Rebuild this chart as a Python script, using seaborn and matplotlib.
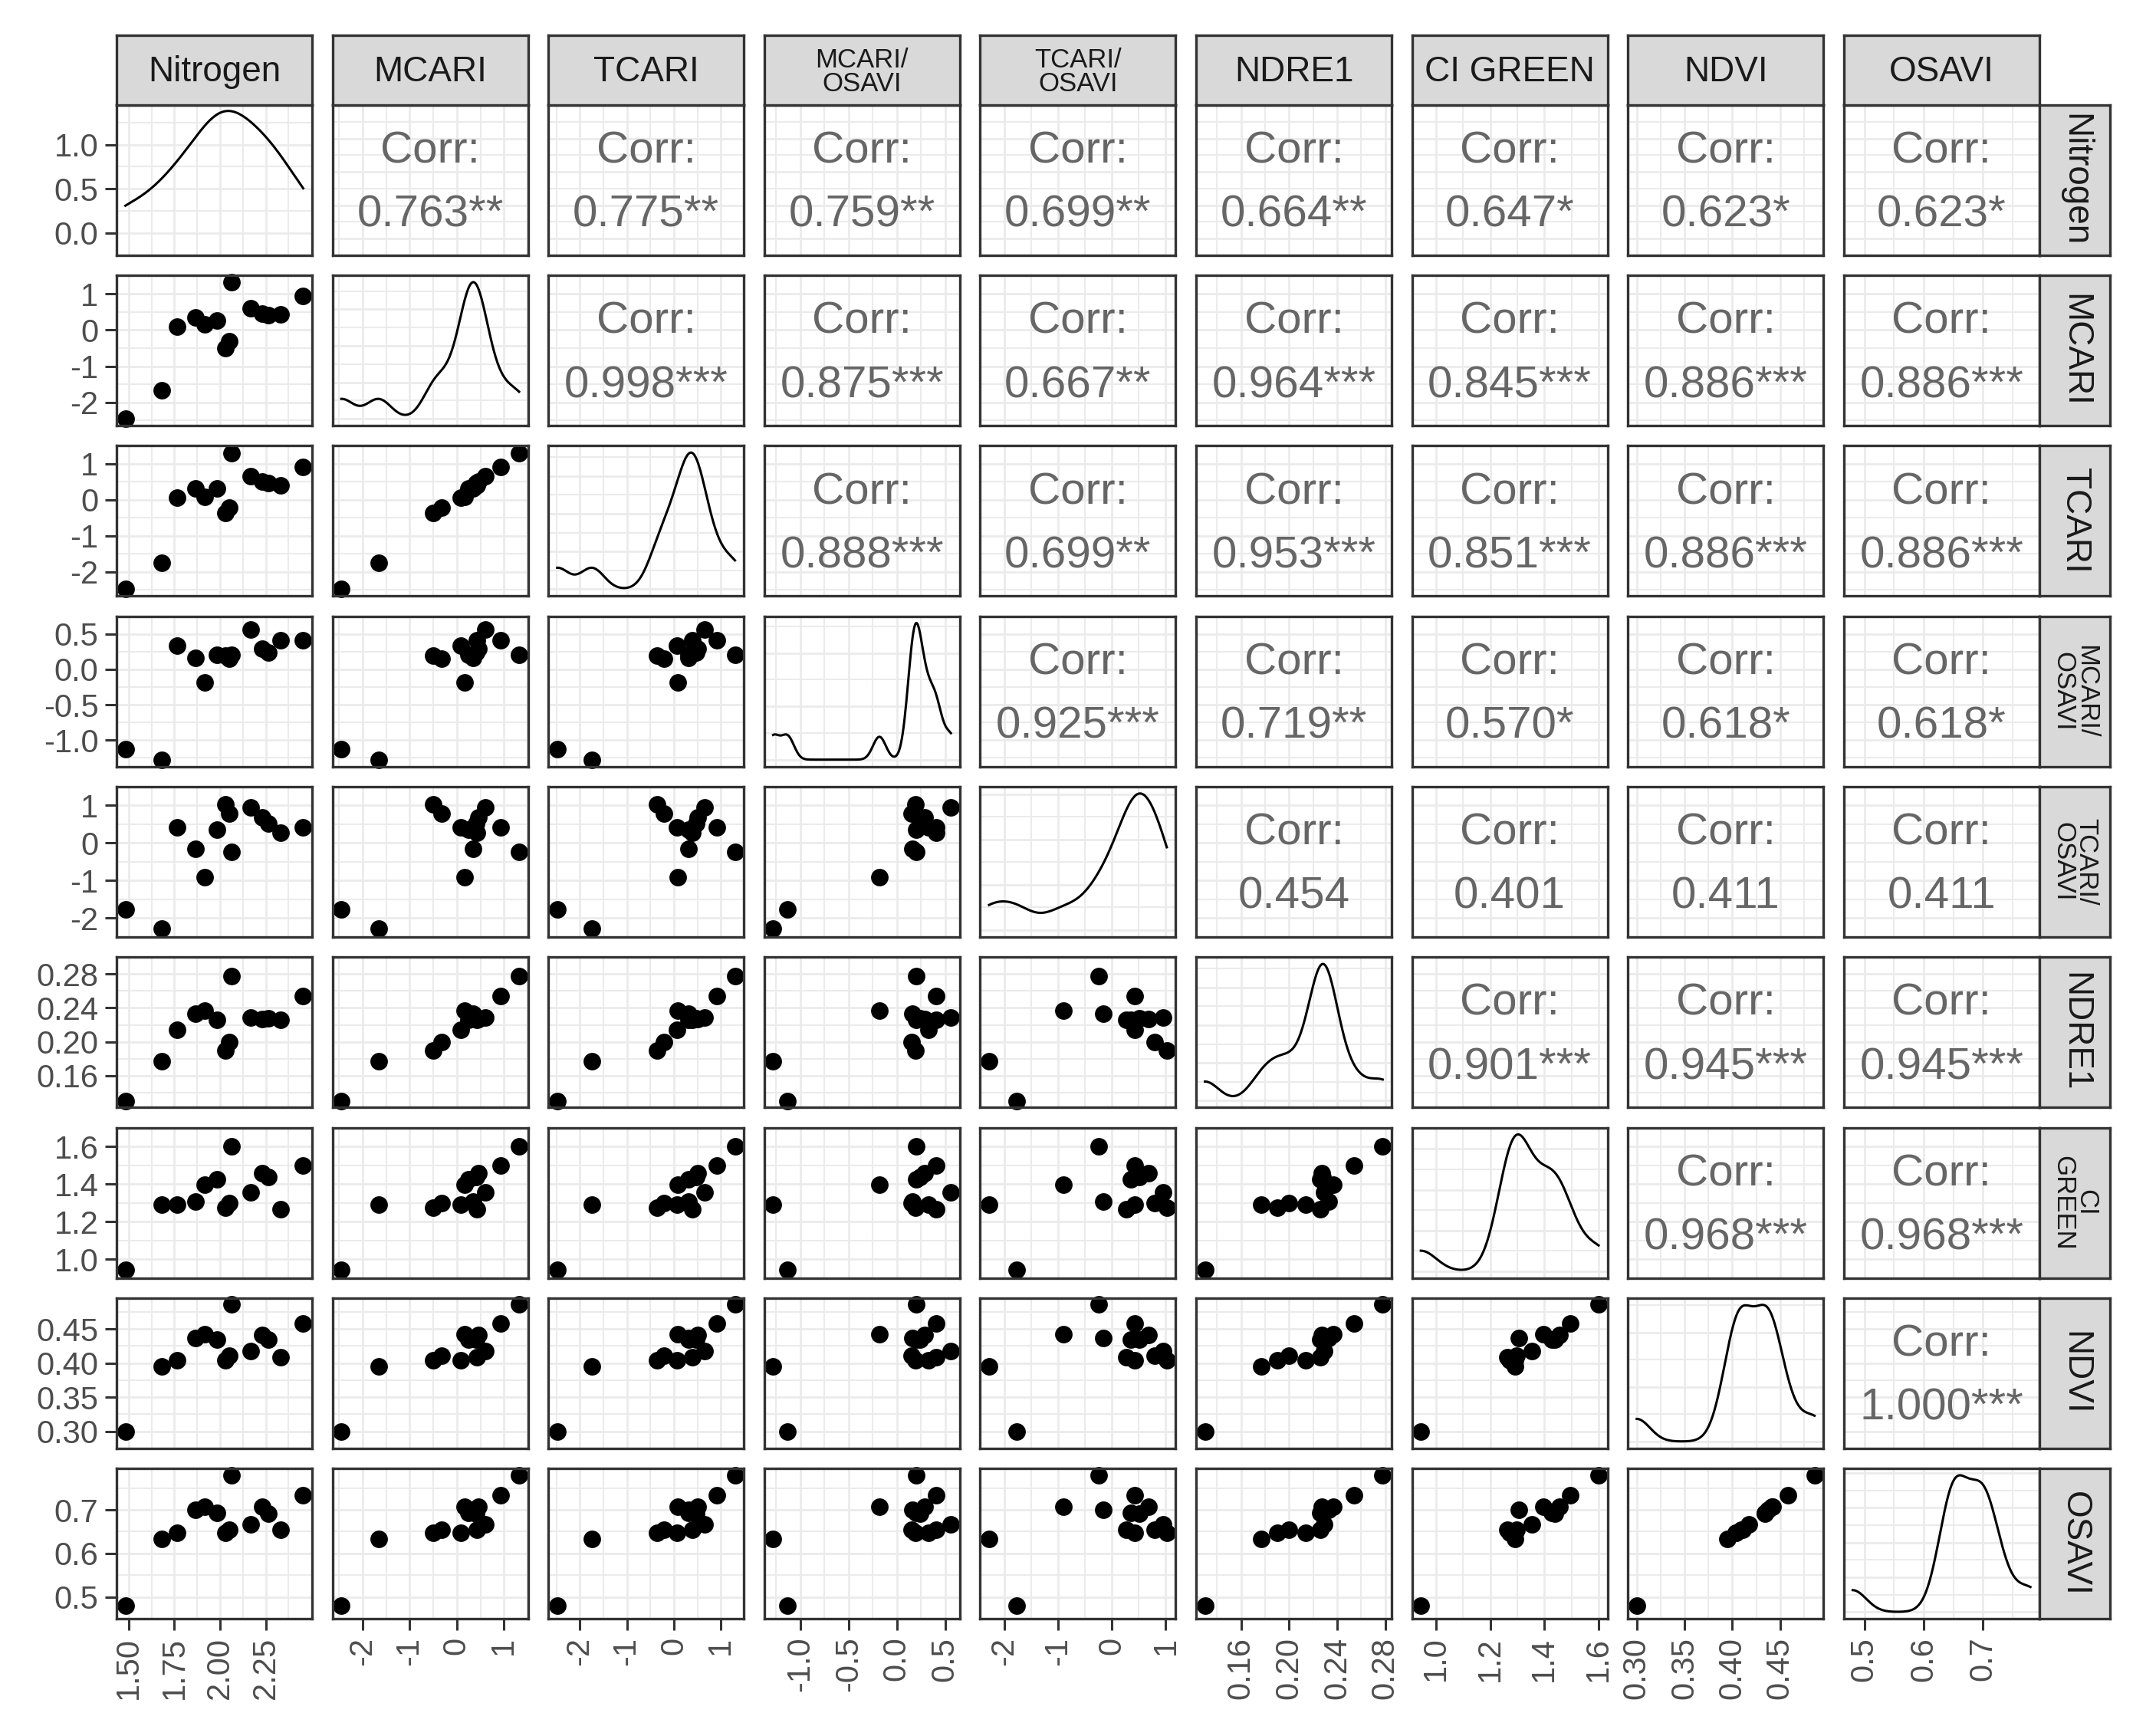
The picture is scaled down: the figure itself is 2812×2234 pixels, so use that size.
import numpy as np
import pandas as pd
import matplotlib
matplotlib.use("Agg")
import matplotlib.pyplot as plt
from matplotlib.ticker import MaxNLocator, AutoMinorLocator
import seaborn as sns

# variables, strip labels
variables = ["Nitrogen", "MCARI", "TCARI", "MCARI/OSAVI", "TCARI/OSAVI",
             "NDRE1", "CI GREEN", "NDVI", "OSAVI"]
strip_top = ["Nitrogen", "MCARI", "TCARI", "MCARI/\nOSAVI", "TCARI/\nOSAVI",
             "NDRE1", "CI GREEN", "NDVI", "OSAVI"]
strip_right = ["Nitrogen", "MCARI", "TCARI", "MCARI/\nOSAVI", "TCARI/\nOSAVI",
               "NDRE1", "CI\nGREEN", "NDVI", "OSAVI"]

# 14 plots
nitrogen = [1.482, 1.683, 1.765, 1.866, 1.915, 1.982, 2.031, 2.050, 2.064, 2.166, 2.229, 2.264, 2.331, 2.455]
mcari = [-2.45, -1.66, 0.09, 0.34, 0.16, 0.25, -0.50, -0.32, 1.32, 0.60, 0.46, 0.41, 0.42, 0.93]
tcari = [-2.48, -1.74, 0.06, 0.31, 0.08, 0.31, -0.36, -0.21, 1.30, 0.65, 0.51, 0.47, 0.40, 0.91]
mcari_osavi = [-1.13, -1.28, 0.33, 0.16, -0.18, 0.20, 0.19, 0.15, 0.20, 0.56, 0.29, 0.24, 0.41, 0.41]
tcari_osavi = [-1.77, -2.28, 0.42, -0.16, -0.90, 0.36, 1.02, 0.79, -0.24, 0.95, 0.68, 0.51, 0.27, 0.42]
ndre1 = [0.130, 0.177, 0.214, 0.233, 0.237, 0.226, 0.190, 0.200, 0.278, 0.229, 0.227, 0.228, 0.226, 0.254]
ci_green = [0.944, 1.291, 1.291, 1.306, 1.395, 1.426, 1.272, 1.297, 1.600, 1.355, 1.456, 1.438, 1.264, 1.496]
ndvi = [0.300, 0.395, 0.404, 0.437, 0.442, 0.434, 0.404, 0.411, 0.486, 0.417, 0.441, 0.434, 0.409, 0.458]
osavi = [0.480, 0.634, 0.647, 0.700, 0.708, 0.693, 0.647, 0.655, 0.780, 0.666, 0.708, 0.692, 0.654, 0.734]

# correlation text, upper triangle row by row
corr_nitrogen = ["0.763**", "0.775**", "0.759**", "0.699**", "0.664**", "0.647*", "0.623*", "0.623*"]
corr_mcari = ["0.998***", "0.875***", "0.667**", "0.964***", "0.845***", "0.886***", "0.886***"]
corr_tcari = ["0.888***", "0.699**", "0.953***", "0.851***", "0.886***", "0.886***"]
corr_mcari_osavi = ["0.925***", "0.719**", "0.570*", "0.618*", "0.618*"]
corr_tcari_osavi = ["0.454", "0.401", "0.411", "0.411"]
corr_ndre1 = ["0.901***", "0.945***", "0.945***"]
corr_ci_green = ["0.968***", "0.968***"]
corr_ndvi = ["1.000***"]
corr_rows = [corr_nitrogen, corr_mcari, corr_tcari, corr_mcari_osavi, corr_tcari_osavi,
             corr_ndre1, corr_ci_green, corr_ndvi]

# axis breaks
nitrogen_ticks = [1.50, 1.75, 2.00, 2.25]
nitrogen_labels = ["1.50", "1.75", "2.00", "2.25"]
mcari_ticks = [-2, -1, 0, 1]
mcari_labels = ["-2", "-1", "0", "1"]
tcari_ticks = [-2, -1, 0, 1]
tcari_labels = ["-2", "-1", "0", "1"]
mcari_osavi_ticks = [-1.0, -0.5, 0.0, 0.5]
mcari_osavi_labels = ["-1.0", "-0.5", "0.0", "0.5"]
tcari_osavi_ticks = [-2, -1, 0, 1]
tcari_osavi_labels = ["-2", "-1", "0", "1"]
ndre1_ticks = [0.16, 0.20, 0.24, 0.28]
ndre1_labels = ["0.16", "0.20", "0.24", "0.28"]
ci_green_ticks = [1.0, 1.2, 1.4, 1.6]
ci_green_labels = ["1.0", "1.2", "1.4", "1.6"]
ndvi_ticks = [0.30, 0.35, 0.40, 0.45]
ndvi_labels = ["0.30", "0.35", "0.40", "0.45"]
osavi_ticks = [0.5, 0.6, 0.7]
osavi_labels = ["0.5", "0.6", "0.7"]
density_ticks = [0.0, 0.5, 1.0]
density_labels = ["0.0", "0.5", "1.0"]

df = pd.DataFrame(dict(zip(variables, [nitrogen, mcari, tcari, mcari_osavi, tcari_osavi,
                                       ndre1, ci_green, ndvi, osavi])))
ticks = [nitrogen_ticks, mcari_ticks, tcari_ticks, mcari_osavi_ticks, tcari_osavi_ticks,
         ndre1_ticks, ci_green_ticks, ndvi_ticks, osavi_ticks]
tick_labels = [nitrogen_labels, mcari_labels, tcari_labels, mcari_osavi_labels, tcari_osavi_labels,
               ndre1_labels, ci_green_labels, ndvi_labels, osavi_labels]

#%%
plt.rcParams["font.family"] = ["Liberation Sans", "DejaVu Sans"]

W, H = 2812, 2234
fig = plt.figure(figsize=(W / 100, H / 100), dpi=100)
fig.patch.set_facecolor("white")

n = len(variables)
x0, pitch_x, pw = 152, 281.6, 255
y0, pitch_y, ph = 136.7, 222.3, 196
strip_h, strip_w = 91, 92
BORDER = "#333333"
GRID = "#EBEBEB"
TICKCOL = "#4D4D4D"
TICK_FS = 30
CORR_FS = 42


def px_axes(left, top, width, height):
    return fig.add_axes([left / W, 1 - (top + height) / H, width / W, height / H])


def limits(v):
    lo, hi = df[v].min(), df[v].max()
    r = hi - lo
    return lo - 0.05 * r, hi + 0.05 * r


def minor_of(t):
    step = t[1] - t[0]
    return [t[0] - step / 2] + [a + step / 2 for a in t]


def style(ax):
    ax.set_facecolor("white")
    for s in ax.spines.values():
        s.set_color(BORDER)
        s.set_linewidth(2.4)
        s.set_zorder(5)
    ax.grid(True, which="major", color=GRID, lw=2.0)
    ax.grid(True, which="minor", color=GRID, lw=1.5)
    ax.set_axisbelow(True)
    ax.tick_params(which="both", length=0, labelleft=False, labelbottom=False)


def nrd0_factor(x):
    x = np.asarray(x)
    sd = x.std(ddof=1)
    q75, q25 = np.percentile(x, [75, 25])
    return 0.9 * min(sd, (q75 - q25) / 1.34) * len(x) ** -0.2 / sd


for i, vy in enumerate(variables):
    for j, vx in enumerate(variables):
        ax = px_axes(x0 + j * pitch_x, y0 + i * pitch_y, pw, ph)
        if i == j:
            sns.kdeplot(x=df[vx], bw_method=nrd0_factor(df[vx]), cut=0,
                        color="black", linewidth=2.2, ax=ax)
            m = ax.lines[0].get_ydata().max()
            ax.set_ylim(-0.05 * m, 1.05 * m)
            if i == 0:
                ax.set_yticks(density_ticks)
                ax.set_yticks(minor_of(density_ticks), minor=True)
            else:
                ax.yaxis.set_major_locator(MaxNLocator(nbins=5, steps=[1, 2, 2.5, 5, 10]))
                ax.yaxis.set_minor_locator(AutoMinorLocator(2))
        elif i > j:
            sns.scatterplot(x=df[vx], y=df[vy], color="black", s=270,
                            linewidth=0, ax=ax, zorder=3, clip_on=False)
            ax.set_ylim(*limits(vy))
            ax.set_yticks(ticks[i])
            ax.set_yticks(minor_of(ticks[i]), minor=True)
        else:
            ax.set_ylim(*limits(vy))
            ax.set_yticks(ticks[i])
            ax.set_yticks(minor_of(ticks[i]), minor=True)
            ax.text(0.5, 0.69, "Corr:", transform=ax.transAxes, ha="center",
                    va="center", fontsize=CORR_FS, color="#666666")
            ax.text(0.5, 0.265, corr_rows[i][j - i - 1], transform=ax.transAxes,
                    ha="center", va="center", fontsize=CORR_FS, color="#666666")
        ax.set_xlim(*limits(vx))
        ax.set_xticks(ticks[j])
        ax.set_xticks(minor_of(ticks[j]), minor=True)
        ax.set_xlim(*limits(vx))
        ax.set_xlabel("")
        ax.set_ylabel("")
        style(ax)

        if j == 0:
            ax.tick_params(axis="y", which="major", length=11, width=2.2, color=BORDER,
                           labelleft=True, labelsize=TICK_FS, labelcolor=TICKCOL, pad=6)
            if i == 0:
                ax.set_yticklabels(density_labels)
            else:
                ax.set_yticklabels(tick_labels[i])
        if i == n - 1:
            ax.tick_params(axis="x", which="major", length=11, width=2.2, color=BORDER,
                           labelbottom=True, labelsize=TICK_FS, labelcolor=TICKCOL, pad=6)
            ax.set_xticklabels(tick_labels[j], rotation=90, va="top", ha="center")

# strips on top and on the right
for j, lab in enumerate(strip_top):
    sax = px_axes(x0 + j * pitch_x, y0 - strip_h, pw, strip_h)
    sax.set_facecolor("#D9D9D9")
    sax.set_xticks([])
    sax.set_yticks([])
    for s in sax.spines.values():
        s.set_color(BORDER)
        s.set_linewidth(2.4)
    two = "\n" in lab
    sax.text(0.5, 0.47, lab, ha="center", va="center", transform=sax.transAxes,
             fontsize=25 if two else 33, color="#1A1A1A", linespacing=0.9)

for i, lab in enumerate(strip_right):
    sax = px_axes(x0 + (n - 1) * pitch_x + pw, y0 + i * pitch_y, strip_w, ph)
    sax.set_facecolor("#D9D9D9")
    sax.set_xticks([])
    sax.set_yticks([])
    for s in sax.spines.values():
        s.set_color(BORDER)
        s.set_linewidth(2.4)
    two = "\n" in lab
    sax.text(0.5, 0.5, lab, ha="center", va="center", transform=sax.transAxes,
             rotation=-90, fontsize=25 if two else 33, color="#1A1A1A", linespacing=0.9)

plt.savefig("out.png", dpi=100, facecolor="white")
